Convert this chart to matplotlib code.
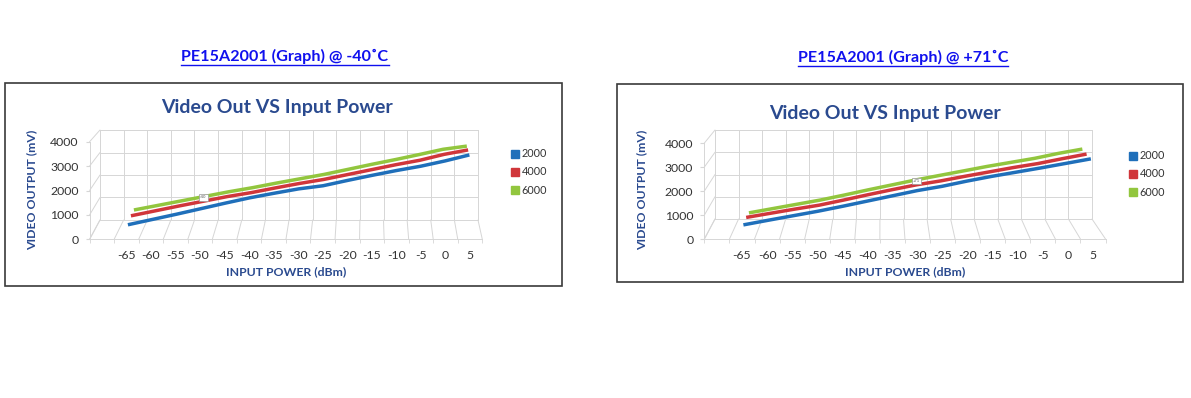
import matplotlib
matplotlib.use("Agg")
import matplotlib.pyplot as plt
from matplotlib.lines import Line2D
from matplotlib.patches import Rectangle, ConnectionPatch

plt.rcParams['font.family'] = ['Lato', 'DejaVu Sans']

W, H = 1191, 398

# data
power = [-65, -60, -55, -50, -45, -40, -35, -30, -25, -20, -15, -10, -5, 0, 5]
series_names = ['2000', '4000', '6000']
series_colors = ['#1f6fba', '#d0363a', '#92c63e']

cold_2000 = [470, 690, 910, 1140, 1370, 1590, 1780, 1960, 2090, 2310, 2520, 2720, 2900, 3120, 3370]
cold_4000 = [590, 800, 1010, 1210, 1410, 1580, 1780, 1970, 2140, 2350, 2560, 2770, 2960, 3210, 3400]
cold_6000 = [580, 780, 980, 1180, 1380, 1560, 1760, 1950, 2140, 2360, 2580, 2790, 3010, 3240, 3380]

hot_2000 = [455, 650, 840, 1030, 1240, 1460, 1680, 1900, 2080, 2300, 2500, 2680, 2860, 3050, 3240]
hot_4000 = [500, 680, 860, 1030, 1250, 1480, 1700, 1910, 2080, 2280, 2470, 2660, 2830, 3040, 3240]
hot_6000 = [420, 610, 800, 990, 1210, 1440, 1660, 1880, 2080, 2280, 2480, 2660, 2840, 3060, 3250]

value_ticks = [0, 1000, 2000, 3000, 4000]
chart_title = 'Video Out VS Input Power'
x_title = 'INPUT POWER (dBm)'
y_title = 'VIDEO OUTPUT (mV)'

# layout of each panel, in pixels of the 1191x398 picture
panels = [
    dict(link='PE15A2001 (Graph) @ -40˚C', link_xy=(285, 56),
         series=[cold_2000, cold_4000, cold_6000], tag='-40', tag_at=3,
         box=(5, 562, 83, 286), title_xy=(277, 108),
         front=(89.6, 482.3, 239.3, 141.7), back=(100, 478, 220, 130),
         ylab_xy=(32, 190), xlab_xy=(286, 272), legend_xy=(512, 172)),
    dict(link='PE15A2001 (Graph) @ +71˚C', link_xy=(903, 57),
         series=[hot_2000, hot_4000, hot_6000], tag='+71', tag_at=7,
         box=(617, 1183, 84, 282), title_xy=(885, 113),
         front=(704.4, 1105.5, 239, 143), back=(715, 1092, 219, 130),
         ylab_xy=(642, 190), xlab_xy=(905, 272), legend_xy=(1130, 174)),
]

XLIM = (-72.5, 7.5)
YLIM = (0, 4000)
GRID = '#d6d6d6'
NAVY = '#2a4a8f'
LINK = '#1010ee'


def fx(x):
    return x / W


def fy(y):
    return 1 - y / H


def rect(l, r, y0, ytop):
    return [fx(l), fy(y0), (r - l) / W, (y0 - ytop) / H]


def plane(front, back, d):
    return tuple(f + (b - f) * d for f, b in zip(front, back))


def blank_axes(fig, geom):
    ax = fig.add_axes(rect(*geom))
    ax.set_xlim(*XLIM)
    ax.set_ylim(*YLIM)
    ax.set_facecolor('none')
    return ax


fig = plt.figure(figsize=(W / 100, H / 100), dpi=100)
fig.patch.set_facecolor('white')
links = []
# category borders, one empty slot before -65
borders = [XLIM[0] + 5 * i for i in range(len(power) + 2)]

for p in panels:
    # frame around the chart
    l, r, t, b = p['box']
    fig.add_artist(Rectangle((fx(l), fy(b)), (r - l) / W, (b - t) / H,
                             transform=fig.transFigure, fill=False,
                             ec='#3a3a3a', lw=1.2, zorder=-3))
    links.append(fig.text(fx(p['link_xy'][0]), fy(p['link_xy'][1]), p['link'],
                          ha='center', va='center', fontsize=11.6,
                          fontweight='bold', color=LINK))
    fig.text(fx(p['title_xy'][0]), fy(p['title_xy'][1]), chart_title,
             ha='center', va='center', fontsize=14, fontweight='bold',
             color=NAVY)

    # back wall with its grid
    back = blank_axes(fig, p['back'])
    back.set_xticks(borders)
    back.set_yticks(value_ticks)
    back.grid(True, color=GRID, lw=0.7)
    back.tick_params(length=0, labelleft=False, labelbottom=False)
    for s in back.spines.values():
        s.set_color(GRID)
        s.set_linewidth(0.7)

    front = blank_axes(fig, p['front'])

    # floor and side wall lines from the front edge to the back wall
    for xb in borders:
        fig.add_artist(ConnectionPatch((xb, 0), (xb, 0), front.transData,
                                       back.transData, color=GRID, lw=0.7,
                                       zorder=-1))
    for v in value_ticks:
        fig.add_artist(ConnectionPatch((XLIM[0], v), (XLIM[0], v),
                                       front.transData, back.transData,
                                       color=GRID, lw=0.7, zorder=-1))

    # series, back to front
    for i in reversed(range(len(series_names))):
        d = (i + 0.5) / len(series_names)
        ax = blank_axes(fig, plane(p['front'], p['back'], d))
        ax.axis('off')
        ax.plot(power, p['series'][i], color=series_colors[i], lw=2.5,
                solid_capstyle='butt', solid_joinstyle='round', clip_on=False)
        if i == 1:
            k = p['tag_at']
            ax.annotate(p['tag'], (power[k], p['series'][i][k]),
                        xytext=(0, 4), textcoords='offset pixels',
                        ha='center', va='center', fontsize=3, color='#555',
                        bbox=dict(boxstyle='square,pad=0.3', fc='white',
                                  ec='#999', lw=0.5))
    handles = [Line2D([], [], ls='none', marker='s', ms=5.5,
                      mfc=c, mec=c) for c in series_colors]

    # front edge: tick labels
    front.set_xticks(power)
    front.set_xticks(borders, minor=True)
    front.set_yticks(value_ticks)
    front.tick_params(axis='x', which='major', length=0, pad=8,
                      labelsize=8.8, labelcolor='#333')
    front.tick_params(axis='x', which='minor', length=3, color=GRID,
                      direction='out')
    front.tick_params(axis='y', length=3, color=GRID, pad=5,
                      labelsize=8.8, labelcolor='#333')
    front.set_xticklabels([str(v) for v in power])
    for side in ('top', 'right'):
        front.spines[side].set_visible(False)
    for side in ('left', 'bottom'):
        front.spines[side].set_color(GRID)
        front.spines[side].set_linewidth(0.7)

    fig.text(fx(p['ylab_xy'][0]), fy(p['ylab_xy'][1]), y_title,
             rotation=90, ha='center', va='center', fontsize=8.8,
             fontweight='bold', color=NAVY)
    fig.text(fx(p['xlab_xy'][0]), fy(p['xlab_xy'][1]), x_title,
             ha='center', va='center', fontsize=8.8, fontweight='bold',
             color=NAVY)

    fig.legend(handles, series_names, loc='center left',
               bbox_to_anchor=(fx(p['legend_xy'][0]), fy(p['legend_xy'][1])),
               frameon=False, fontsize=7.8, handlelength=0.6,
               handletextpad=0.3, labelspacing=0.65, borderpad=0,
               borderaxespad=0, labelcolor='#333')

# underline the two link titles
fig.canvas.draw()
renderer = fig.canvas.get_renderer()
for t in links:
    bb = t.get_window_extent(renderer)
    yl = bb.y0 - 1
    fig.add_artist(Line2D([bb.x0 / fig.bbox.width, bb.x1 / fig.bbox.width],
                          [yl / fig.bbox.height, yl / fig.bbox.height],
                          transform=fig.transFigure, color=LINK, lw=1.0))

fig.savefig('out.png', dpi=100)
